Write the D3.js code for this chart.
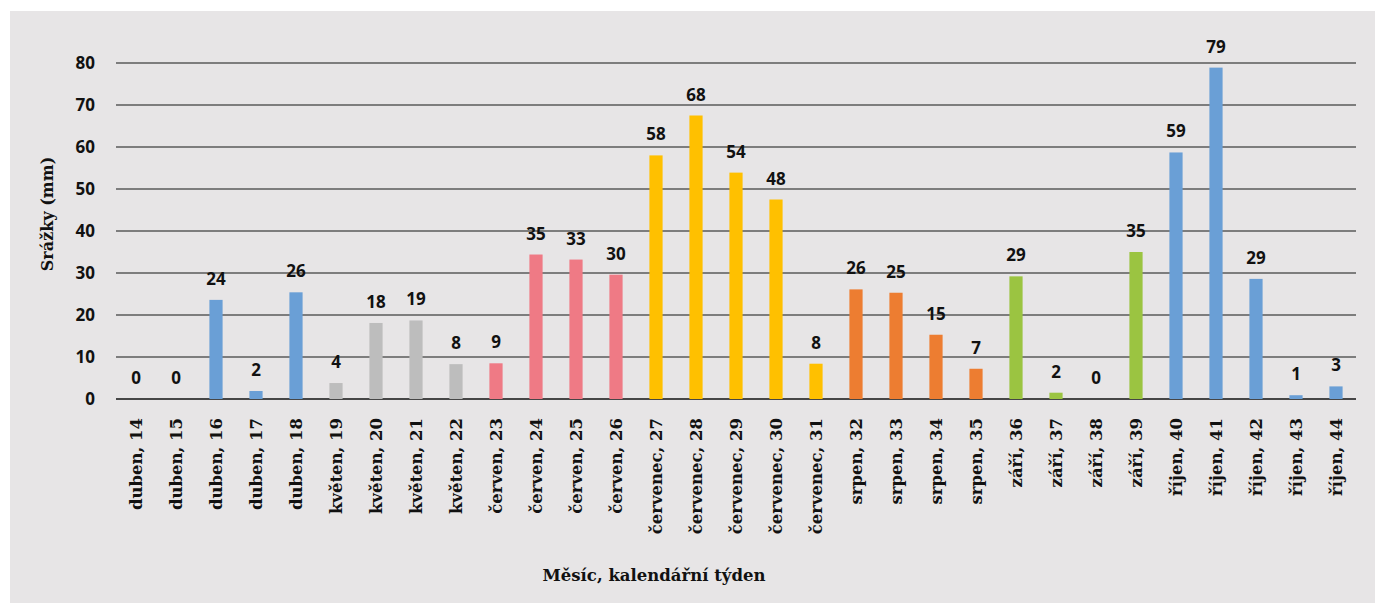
<!DOCTYPE html>
<html><head><meta charset="utf-8">
<script src="https://cdn.jsdelivr.net/npm/d3@7"></script>
<style>body{margin:0;background:#fff}text{fill:#111}</style>
</head><body>
<svg id="c" width="1375" height="603"></svg>
<script>
const months = ["duben","duben","duben","duben","duben","květen","květen","květen","květen","červen","červen","červen","červen","červenec","červenec","červenec","červenec","červenec","srpen","srpen","srpen","srpen","září","září","září","září","říjen","říjen","říjen","říjen","říjen"];
const weeks = [14,15,16,17,18,19,20,21,22,23,24,25,26,27,28,29,30,31,32,33,34,35,36,37,38,39,40,41,42,43,44];
const rain = [0,0,23.6,1.9,25.4,3.8,18.1,18.7,8.3,8.5,34.4,33.2,29.6,58.0,67.5,53.9,47.5,8.4,26.1,25.3,15.3,7.2,29.2,1.5,0,35.0,58.7,78.9,28.6,0.9,3.0];
const labels = [0,0,24,2,26,4,18,19,8,9,35,33,30,58,68,54,48,8,26,25,15,7,29,2,0,35,59,79,29,1,3];
const yTicks = [0,10,20,30,40,50,60,70,80];
const monthColors = {"duben":"#6a9fd6","květen":"#bdbdbd","červen":"#ef7a85","červenec":"#ffc000","srpen":"#ed7d31","září":"#9bc441","říjen":"#6a9fd6"};

const svg = d3.select("#c");
svg.append("rect").attr("x",10).attr("y",11).attr("width",1365).attr("height",592).attr("fill","#e7e5e6");

const cats = weeks.map((w,i)=>months[i]+", "+w);
const x = d3.scaleBand().domain(cats).range([116,1356]).paddingInner(0.67).paddingOuter(0.335);
const y = d3.scaleLinear().domain([0,80]).range([399,63]);

const serif = "'DejaVu Serif', serif";
const sans = "'Open Sans','Liberation Sans',sans-serif";

// grid
svg.append("g").selectAll("line").data(yTicks).join("line")
  .attr("x1",116).attr("x2",1356).attr("y1",d=>y(d)).attr("y2",d=>y(d))
  .attr("stroke",d=>d===0?"#111":"#5a5a5a").attr("stroke-width",1.3);

// y tick labels
svg.append("g").selectAll("text").data(yTicks).join("text")
  .attr("x",95).attr("y",d=>y(d)).attr("dy","0.36em").attr("text-anchor","end")
  .style("font-family",sans).style("font-weight","bold").style("font-size","17px").text(d=>d);

// bars
svg.append("g").selectAll("rect").data(rain).join("rect")
  .attr("x",(d,i)=>x(cats[i])).attr("width",x.bandwidth())
  .attr("y",d=>y(d)).attr("height",d=>y(0)-y(d))
  .attr("fill",(d,i)=>monthColors[months[i]]);

// data labels
svg.append("g").selectAll("text").data(labels).join("text")
  .attr("x",(d,i)=>x(cats[i])+x.bandwidth()/2).attr("y",(d,i)=>y(rain[i])-15)
  .attr("text-anchor","middle")
  .style("font-family",sans).style("font-weight","bold").style("font-size","17px").text(d=>d);

// x category labels
svg.append("g").selectAll("text").data(cats).join("text")
  .attr("transform",d=>`translate(${x(d)+x.bandwidth()/2+6},418) rotate(-90)`)
  .attr("text-anchor","end")
  .style("font-family",serif).style("font-weight","bold").style("font-size","16.5px").text(d=>d);

// axis titles
svg.append("text").attr("transform","translate(53,214) rotate(-90)").attr("text-anchor","middle")
  .style("font-family",serif).style("font-weight","bold").style("font-size","16px").text("Srážky (mm)");
svg.append("text").attr("x",654).attr("y",581).attr("text-anchor","middle")
  .style("font-family",serif).style("font-weight","bold").style("font-size","16.5px").text("Měsíc, kalendářní týden");
</script>
</body></html>
